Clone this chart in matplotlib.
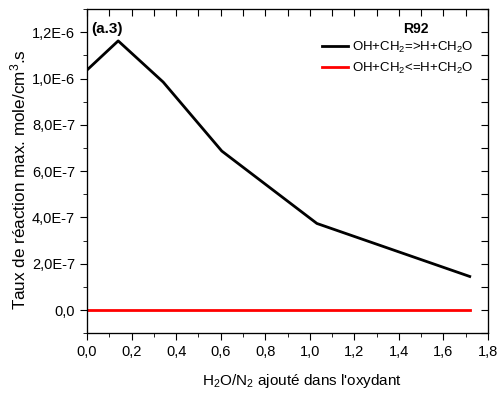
import numpy as np
import matplotlib
matplotlib.use('Agg')
import matplotlib.pyplot as plt
from matplotlib.ticker import MultipleLocator, FuncFormatter, NullFormatter

plt.rcParams['font.family'] = ['Liberation Sans', 'DejaVu Sans']
plt.rcParams['mathtext.default'] = 'regular'

# données
ratio = [0.0, 0.14, 0.342, 0.605, 1.032, 1.718]
direct = [1.037e-6, 1.163e-6, 0.985e-6, 0.687e-6, 0.374e-6, 0.145e-6]
inverse = [0.0, 0.0, 0.0, 0.0, 0.0, 0.0]

fig = plt.figure(figsize=(5.0, 3.99), dpi=100)
ax = fig.add_axes([0.174, 0.165, 0.802, 0.812])

ax.plot(ratio, direct, color='black', lw=2, label='OH+CH$_2$=>H+CH$_2$O')
ax.plot(ratio, inverse, color='red', lw=2, label='OH+CH$_2$<=H+CH$_2$O')

xlim = (0, 1.8)
ylim = (-1e-7, 1.3e-6)
ax.set_xlim(*xlim)
ax.set_ylim(*ylim)

ax.xaxis.set_major_locator(MultipleLocator(0.2))
ax.xaxis.set_minor_locator(MultipleLocator(0.1))
ax.yaxis.set_major_locator(MultipleLocator(2e-7))
ax.yaxis.set_minor_locator(MultipleLocator(1e-7))

def fmt_x(v, pos):
    return f'{v:.1f}'.replace('.', ',')

def fmt_y(v, pos):
    if abs(v) < 1e-12:
        return '0,0'
    m, e = f'{v:.1E}'.split('E')
    return f'{m}E{int(e)}'.replace('.', ',')

ax.xaxis.set_major_formatter(FuncFormatter(fmt_x))
ax.yaxis.set_major_formatter(FuncFormatter(fmt_y))

ax.tick_params(which='both', direction='out', top=False, right=False, labelsize=10.5)
ax.tick_params(which='major', length=5)
ax.tick_params(which='minor', length=3)

# graduations intérieures en haut et à droite
ax_top = ax.twiny()
ax_top.set_xlim(*xlim)
ax_top.xaxis.set_major_locator(MultipleLocator(0.1))
ax_top.xaxis.set_major_formatter(NullFormatter())
ax_top.tick_params(direction='in', length=5)
ax_right = ax.twinx()
ax_right.set_ylim(*ylim)
ax_right.yaxis.set_major_locator(MultipleLocator(1e-7))
ax_right.yaxis.set_major_formatter(NullFormatter())
ax_right.tick_params(direction='in', length=5)

ax.set_xlabel("H$_2$O/N$_2$ ajouté dans l'oxydant", fontsize=11)
ax.xaxis.set_label_coords(0.536, -0.12)
ax.set_ylabel('Taux de réaction max. mole/cm$^3$.s', fontsize=12.3)
ax.yaxis.set_label_coords(-0.147, 0.475)

ax.text(0.01, 0.94, '(a.3)', transform=ax.transAxes, fontsize=11,
        fontweight='bold', va='center', ha='left')
ax.text(0.82, 0.94, 'R92', transform=ax.transAxes, fontsize=10,
        fontweight='bold', va='center', ha='center')

leg = ax_right.legend(*ax.get_legend_handles_labels(), loc='upper right',
                      bbox_to_anchor=(0.965, 0.905), frameon=False, fontsize=9.5,
                      handlelength=2.0, handletextpad=0.3, borderaxespad=0,
                      borderpad=0, labelspacing=0.45)

fig.savefig('out.png', dpi=100)
